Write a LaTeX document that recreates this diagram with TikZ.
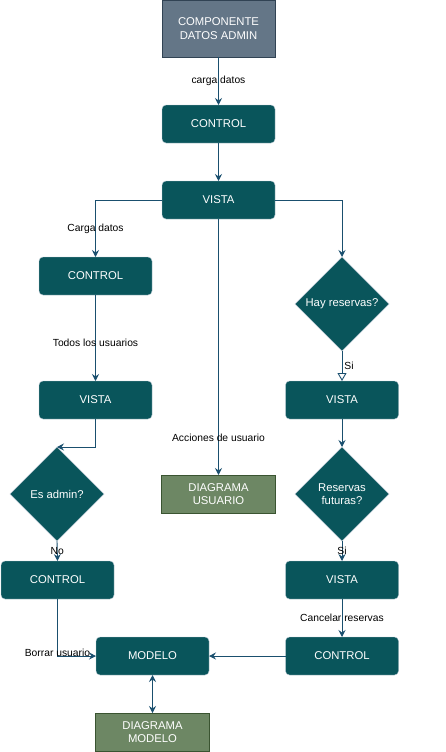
\documentclass[tikz,border=0pt]{standalone}
\usepackage{fontspec}
\setmainfont{Liberation Sans}
\usepackage{tikz}
\usetikzlibrary{positioning,arrows.meta,shapes.geometric}

\definecolor{tealfill}{HTML}{09555B}
\definecolor{tealline}{HTML}{BAC8D3}
\definecolor{edgeblue}{HTML}{1A4F6E}
\definecolor{slatefill}{HTML}{647687}
\definecolor{slateline}{HTML}{314354}
\definecolor{greenfill}{HTML}{6D8764}
\definecolor{greenline}{HTML}{3A5431}

\begin{document}
\begin{tikzpicture}[
    x=1pt, y=-1pt,
    box/.style={rectangle, rounded corners=4pt, draw=tealline, fill=tealfill, text=white,
        minimum width=113pt, minimum height=38pt, outer sep=0pt, align=center,
        font=\fontsize{11.3}{13.5}\selectfont},
    decision/.style={diamond, aspect=1, draw=tealline, fill=tealfill, text=white,
        minimum width=94pt, minimum height=94pt, inner sep=1pt, outer sep=0pt, align=center,
        font=\fontsize{11.3}{13.5}\selectfont},
    slatebox/.style={rectangle, draw=slateline, fill=slatefill, text=white,
        minimum width=113pt, minimum height=57pt, outer sep=0pt, align=center,
        font=\fontsize{11.3}{13.5}\selectfont},
    greenbox/.style={rectangle, draw=greenline, fill=greenfill, text=white,
        minimum width=114pt, minimum height=38pt, outer sep=0pt, align=center,
        font=\fontsize{11.3}{13.5}\selectfont},
    flow/.style={->, >={Stealth[length=7pt, width=7pt, inset=2.5pt]}, draw=edgeblue, line width=0.9pt},
    edgelabel/.style={text=black, inner sep=1pt, font=\fontsize{10.3}{12}\selectfont}
    ]
        \useasboundingbox (0,0) rectangle (446,752);

        %Nodes
        \node[slatebox]
            (comp) at (218.5,28.5)          {COMPONENTE\\DATOS ADMIN};
        \node[box]
            (ctrlA)  [below=48pt of comp]   {CONTROL};
        \node[box]
            (vistaA) [below=38pt of ctrlA]  {VISTA};

        % rama izquierda
        \node[box]
            (ctrlB)  [below=38pt of vistaA, xshift=-123pt] {CONTROL};
        \node[box]
            (vistaB) [below=86pt of ctrlB]  {VISTA};
        \node[decision]
            (admin)  [below=28pt of vistaB, xshift=-38.5pt] {Es admin?};
        \node[box]
            (ctrlC)  [below=20pt of admin, xshift=0.5pt] {CONTROL};
        \node[box]
            (modelo) [below=38pt of ctrlC, xshift=95pt] {MODELO};
        \node[greenbox]
            (dmodelo) [below=38pt of modelo] {DIAGRAMA\\MODELO};

        % centro
        \node[greenbox]
            (dusuario) [below=256pt of vistaA] {DIAGRAMA\\USUARIO};

        % rama derecha
        \node[decision]
            (reservas) [below=38pt of vistaA, xshift=123.5pt] {Hay reservas?};
        \node[box]
            (vistaC) [below=30pt of reservas] {VISTA};
        \node[decision]
            (futuras) [below=28pt of vistaC] {Reservas\\futuras?};
        \node[box]
            (vistaD) [below=20pt of futuras] {VISTA};
        \node[box]
            (ctrlD)  [below=38pt of vistaD] {CONTROL};

        %Lines
        \draw[flow] (comp.south) -- node[edgelabel] {carga datos} (ctrlA.north);
        \draw[flow] (ctrlA.south) -- (vistaA.north);
        \draw[flow] (vistaA.west) -| node[edgelabel, pos=0.75] {Carga datos} (ctrlB.north);
        \draw[flow] (ctrlB.south) -- node[edgelabel, yshift=-5pt] {Todos los usuarios} (vistaB.north);
        \draw[flow] (vistaB.south) |- (admin.north);
        \draw[flow] (admin.south) -- node[edgelabel] {No} (ctrlC.north);
        \draw[flow] (ctrlC.south) |- node[edgelabel, pos=0.5, yshift=3pt] {Borrar usuario} (modelo.west);
        \draw[flow, <->] (modelo.south) -- (dmodelo.north);
        \draw[flow] (vistaA.south) -- node[edgelabel, pos=0.855] {Acciones de usuario} (dusuario.north);
        \draw[flow] (vistaA.east) -| (reservas.north);
        \draw[->, >={Triangle[open, length=8pt, width=9pt]}, draw=edgeblue, line width=0.9pt]
            (reservas.south) -- node[edgelabel, right, xshift=1pt] {Si} (vistaC.north);
        \draw[flow] (vistaC.south) -- (futuras.north);
        \draw[flow] (futuras.south) -- node[edgelabel] {Si} (vistaD.north);
        \draw[flow] (vistaD.south) -- node[edgelabel] {Cancelar reservas} (ctrlD.north);
        \draw[flow] (ctrlD.west) -- (modelo.east);
    \end{tikzpicture}
\end{document}
